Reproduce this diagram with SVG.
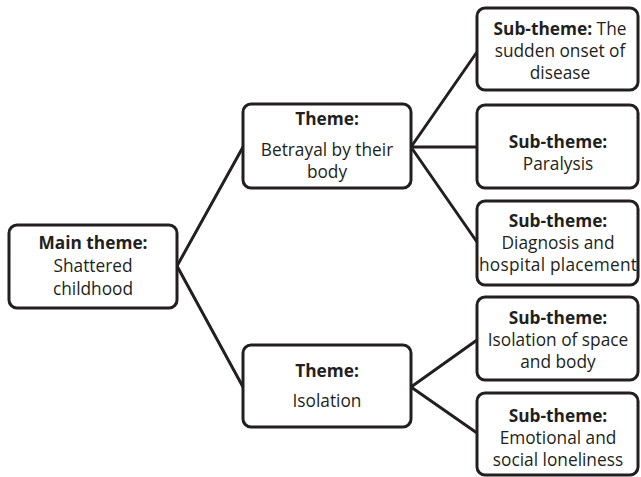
<svg xmlns="http://www.w3.org/2000/svg" width="641" height="477" viewBox="0 0 641 477">
<style>
.box{fill:#fff;stroke:#231f20;stroke-width:3}
.t{font-family:"Open Sans","Liberation Sans",sans-serif;font-size:17.3px;fill:#231f20;text-anchor:middle}
.b{font-weight:bold}
.c{stroke:#231f20;stroke-width:3;fill:none;stroke-linecap:round}
</style>
<rect width="641" height="477" fill="#fff"/>
<g id="connectors">
<line class="c" x1="177" y1="266" x2="243" y2="147"/>
<line class="c" x1="177" y1="266" x2="243" y2="387"/>
<line class="c" x1="411" y1="147" x2="477" y2="52"/>
<line class="c" x1="411" y1="147" x2="477" y2="147"/>
<line class="c" x1="411" y1="147" x2="477" y2="242"/>
<line class="c" x1="411" y1="387" x2="477" y2="340"/>
<line class="c" x1="411" y1="387" x2="477" y2="433"/>
</g>
<g id="main">
<rect class="box" x="9" y="225" width="168" height="83" rx="8"/>
<text class="t"><tspan class="b" x="93" y="249">Main theme:</tspan><tspan x="93" y="272">Shattered</tspan><tspan x="93" y="295">childhood</tspan></text>
</g>
<g id="theme1">
<rect class="box" x="243" y="104" width="168" height="84" rx="8"/>
<text class="t"><tspan class="b" x="327" y="125">Theme:</tspan><tspan x="327" y="156">Betrayal by their</tspan><tspan x="327" y="178">body</tspan></text>
</g>
<g id="theme2">
<rect class="box" x="243" y="345" width="168" height="82" rx="8"/>
<text class="t"><tspan class="b" x="327" y="377">Theme:</tspan><tspan x="327" y="407">Isolation</tspan></text>
</g>
<g id="sub1">
<rect class="box" x="477" y="8" width="161" height="82" rx="8"/>
<text class="t"><tspan x="560" y="35"><tspan class="b">Sub-theme:</tspan> The</tspan><tspan x="560" y="57">sudden onset of</tspan><tspan x="560" y="79">disease</tspan></text>
</g>
<g id="sub2">
<rect class="box" x="477" y="105" width="161" height="83" rx="8"/>
<text class="t"><tspan class="b" x="558" y="148">Sub-theme:</tspan><tspan x="558" y="170">Paralysis</tspan></text>
</g>
<g id="sub3">
<rect class="box" x="477" y="201" width="161" height="84" rx="8"/>
<text class="t"><tspan class="b" x="558" y="227">Sub-theme:</tspan><tspan x="558" y="249">Diagnosis and</tspan><tspan x="558" y="271" textLength="158" lengthAdjust="spacing">hospital placement</tspan></text>
</g>
<g id="sub4">
<rect class="box" x="477" y="297" width="161" height="83" rx="8"/>
<text class="t"><tspan class="b" x="558" y="324">Sub-theme:</tspan><tspan x="558" y="346">Isolation of space</tspan><tspan x="558" y="368">and body</tspan></text>
</g>
<g id="sub5">
<rect class="box" x="477" y="393" width="161" height="82" rx="8"/>
<text class="t"><tspan class="b" x="558" y="422">Sub-theme:</tspan><tspan x="558" y="444">Emotional and</tspan><tspan x="558" y="466">social loneliness</tspan></text>
</g>
</svg>
